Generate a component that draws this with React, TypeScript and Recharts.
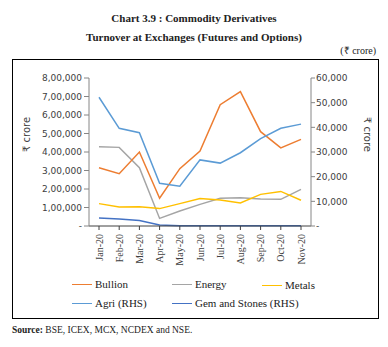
import React from 'react';
import { LineChart, Line, XAxis, YAxis } from 'recharts';

const months = ['Jan-20', 'Feb-20', 'Mar-20', 'Apr-20', 'May-20', 'Jun-20', 'Jul-20', 'Aug-20', 'Sep-20', 'Oct-20', 'Nov-20'];
const bullion = [315000, 283000, 400000, 150000, 310000, 405000, 656000, 726000, 510000, 422000, 468000];
const energy = [429000, 425000, 315000, 41000, 81000, 117000, 150000, 153000, 146000, 144000, 198000];
const metals = [121000, 103000, 104000, 94000, 121000, 148000, 141000, 124000, 171000, 187000, 139000];
const agri = [52200, 39600, 37800, 17300, 16100, 26800, 25500, 29700, 35400, 39600, 41300];
const gems = [3200, 2800, 2200, 400, 150, 80, 60, 60, 60, 60, 60];

const leftTicks = [0, 100000, 200000, 300000, 400000, 500000, 600000, 700000, 800000];
const rightTicks = [0, 10000, 20000, 30000, 40000, 50000, 60000];

const data = months.map((m, i) => ({
  month: m,
  bullion: bullion[i],
  energy: energy[i],
  metals: metals[i],
  agri: agri[i],
  gems: gems[i],
}));

const legendItems = [
  { name: 'Bullion', color: '#ED7D31', x: 72, y: 284 },
  { name: 'Energy', color: '#A5A5A5', x: 172, y: 284 },
  { name: 'Metals', color: '#FFC000', x: 262, y: 285 },
  { name: 'Agri (RHS)', color: '#5B9BD5', x: 72, y: 303 },
  { name: 'Gem and Stones (RHS)', color: '#4472C4', x: 172, y: 303 },
];

// indian grouping: 1,00,000
const fmtIndian = (v: number) => {
  if (v === 0) return '-';
  const s = String(v);
  const last3 = s.slice(-3);
  let rest = s.slice(0, -3);
  const parts: string[] = [];
  while (rest.length > 2) {
    parts.unshift(rest.slice(-2));
    rest = rest.slice(0, -2);
  }
  if (rest) parts.unshift(rest);
  return parts.join(',') + ',' + last3;
};

const fmtRight = (v: number) => (v === 0 ? '-' : v.toLocaleString('en-US'));

const serif = '"Liberation Serif", serif';
const sans = '"DejaVu Sans", sans-serif';

const MonthTick = (props: any) => {
  const { x, y, payload } = props;
  return (
    <text
      x={0}
      y={0}
      transform={`translate(${x + 3.5},${y + 2}) rotate(-90)`}
      textAnchor="end"
      fontFamily={serif}
      fontSize={10}
      fill="#404040"
    >
      {payload.value}
    </text>
  );
};

export default function App() {
  return (
    <div style={{ position: 'absolute', left: 0, top: 0, width: 388, height: 347, background: '#fff' }}>
      <div style={{ position: 'absolute', left: 0, width: 388, top: 9, textAlign: 'center', fontFamily: serif, fontWeight: 'bold', fontSize: 11, lineHeight: '19px', color: '#222' }}>
        Chart 3.9 : Commodity Derivatives
        <br />
        Turnover at Exchanges (Futures and Options)
      </div>
      <div style={{ position: 'absolute', right: 12, top: 43, fontFamily: serif, fontSize: 10, color: '#222' }}>(₹ crore)</div>
      <div style={{ position: 'absolute', left: 12, top: 59, width: 365, height: 258, borderTop: '1px solid #000', borderLeft: '1px solid #000', borderRight: '1px solid #000', borderBottom: '1px solid #000' }} />

      <div style={{ position: 'absolute', left: 0, top: 0 }}>
        <LineChart width={388} height={347} data={data} margin={{ top: 78, right: 0, bottom: 76, left: 0 }}>
          <XAxis
            dataKey="month"
            height={45}
            interval={0}
            padding={{ left: 10, right: 10 }}
            stroke="#404040"
            tickSize={4}
            tick={<MonthTick />}
          />
          <YAxis
            yAxisId="left"
            width={89}
            domain={[0, 800000]}
            ticks={leftTicks}
            tickFormatter={fmtIndian}
            stroke="#868686"
            tickSize={5}
            tickMargin={2}
            tick={{ fill: '#404040', fontSize: 9, fontFamily: sans }}
            label={{ value: '₹ crore', angle: -90, position: 'insideLeft', offset: 26, fontFamily: sans, fontSize: 10, fill: '#404040' }}
          />
          <YAxis
            yAxisId="right"
            orientation="right"
            width={77}
            domain={[0, 60000]}
            ticks={rightTicks}
            tickFormatter={fmtRight}
            stroke="#868686"
            tickSize={4}
            tickMargin={1}
            tick={{ fill: '#404040', fontSize: 9, fontFamily: sans }}
            label={{ value: '₹ crore', angle: 90, position: 'insideRight', offset: 20, fontFamily: sans, fontSize: 10, fill: '#404040' }}
          />
          <Line yAxisId="left" dataKey="energy" stroke="#A5A5A5" strokeWidth={1.5} dot={false} isAnimationActive={false} />
          <Line yAxisId="left" dataKey="metals" stroke="#FFC000" strokeWidth={1.5} dot={false} isAnimationActive={false} />
          <Line yAxisId="left" dataKey="bullion" stroke="#ED7D31" strokeWidth={1.5} dot={false} isAnimationActive={false} />
          <Line yAxisId="right" dataKey="agri" stroke="#5B9BD5" strokeWidth={1.5} dot={false} isAnimationActive={false} />
          <Line yAxisId="right" dataKey="gems" stroke="#4472C4" strokeWidth={1.5} dot={false} isAnimationActive={false} />
        </LineChart>
      </div>

      {legendItems.map((it) => (
        <div key={it.name} style={{ position: 'absolute', left: it.x, top: it.y - 7, height: 14, display: 'flex', alignItems: 'center', fontFamily: serif, fontSize: 11, color: '#222', whiteSpace: 'nowrap' }}>
          <span style={{ display: 'inline-block', width: 20, height: 0, borderTop: `1.5px solid ${it.color}`, marginRight: 3 }} />
          {it.name}
        </div>
      ))}

      <div style={{ position: 'absolute', left: 12, top: 325, fontFamily: serif, fontSize: 9.5, color: '#222', whiteSpace: 'nowrap' }}>
        <b>Source:</b> BSE, ICEX, MCX, NCDEX and NSE.
      </div>
    </div>
  );
}
